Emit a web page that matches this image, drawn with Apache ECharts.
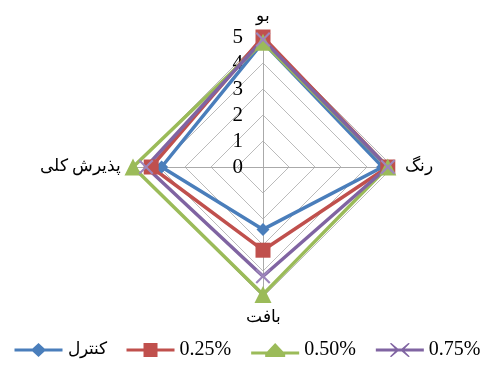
<!DOCTYPE html>
<html>
<head>
<meta charset="utf-8">
<script src="https://cdn.jsdelivr.net/npm/echarts@6/dist/echarts.min.js"></script>
<style>html,body{margin:0;padding:0;background:#fff}#c{width:495px;height:365px}</style>
</head>
<body>
<div id="c"></div>
<script>
// Axes, counter-clockwise from top
const categories = ['بو', 'پذیرش کلی', 'بافت', 'رنگ'];
const seriesNames = ['کنترل', '0.25%', '0.50%', '0.75%'];
const control = [4.8, 3.9, 2.4, 4.6];
const p025 = [5.0, 4.3, 3.2, 4.8];
const p050 = [4.8, 5.0, 4.9, 4.8];
const p075 = [4.9, 4.5, 4.2, 4.8];
const axisMax = 5;

const colors = ['#4a7ebb', '#c0504d', '#9bbb59', '#8064a2'];
const xPath = 'path://M0,1L1,0L5,4L9,0L10,1L6,5L10,9L9,10L5,6L1,10L0,9L4,5Z';
const symbols = ['diamond', 'rect', 'triangle', xPath];
const symbolSizes = [13, 15, 17, 15];
const values = [control, p025, p050, p075];
const font = "'Liberation Serif', 'DejaVu Serif', serif";

// legend icons: line with marker, in a 48x14 box
const legendIcons = [
  'path://M0,5.5L18,5.5L24,0L30,5.5L48,5.5L48,8.5L30,8.5L24,14L18,8.5L0,8.5Z',
  'path://M0,5.5L17,5.5L17,0L31,0L31,5.5L48,5.5L48,8.5L31,8.5L31,14L17,14L17,8.5L0,8.5Z',
  'path://M0,8.5L16,8.5L24,0L32,8.5L48,8.5L48,11.5L34,11.5L34,14L14,14L14,11.5L0,11.5Z',
  'path://M0,5.5L19,5.5L14,0.5L15.5,0L22,5.5L26,5.5L32.5,0L34,0.5L29,5.5L48,5.5L48,8.5L29,8.5L34,13.5L32.5,14L26,8.5L22,8.5L15.5,14L14,13.5L19,8.5L0,8.5Z'
];

const chart = echarts.init(document.getElementById('c'), null, {renderer: 'canvas'});
chart.setOption({
  animation: false,
  color: colors,
  legend: {
    bottom: 0,
    left: 'center',
    itemWidth: 48,
    itemHeight: 14,
    itemGap: 20,
    textStyle: {fontFamily: font, fontSize: 20, color: '#000'},
    data: seriesNames.map((n, i) => ({
      name: n, icon: legendIcons[i], itemStyle: {color: colors[i]},
      textStyle: i === 0 ? {fontSize: 17} : undefined
    }))
  },
  radar: {
    center: [263, 167],
    radius: 130,
    startAngle: 90,
    shape: 'polygon',
    splitNumber: 5,
    nameGap: 12,
    axisName: {color: '#000', fontFamily: font, fontSize: 17},
    axisLine: {lineStyle: {color: '#aaaaaa', width: 1}},
    splitLine: {lineStyle: {color: '#bbbbbb', width: 1}},
    splitArea: {show: false},
    axisTick: {show: false},
    axisLabel: {show: false},
    indicator: categories.map((n, i) => i === 0
      ? {name: n, min: 0, max: axisMax, axisLabel: {show: true, hideOverlap: false, color: '#000', fontFamily: font, fontSize: 21, margin: 20}}
      : {name: n, min: 0, max: axisMax})
  },
  series: [{
    type: 'radar',
    data: seriesNames.map((n, i) => ({
      name: n,
      value: values[i],
      symbol: symbols[i],
      symbolSize: symbolSizes[i],
      itemStyle: {color: i === 3 ? '#9d86bb' : colors[i]},
      lineStyle: {color: colors[i], width: 3.5}
    }))
  }]
});
</script>
</body>
</html>
